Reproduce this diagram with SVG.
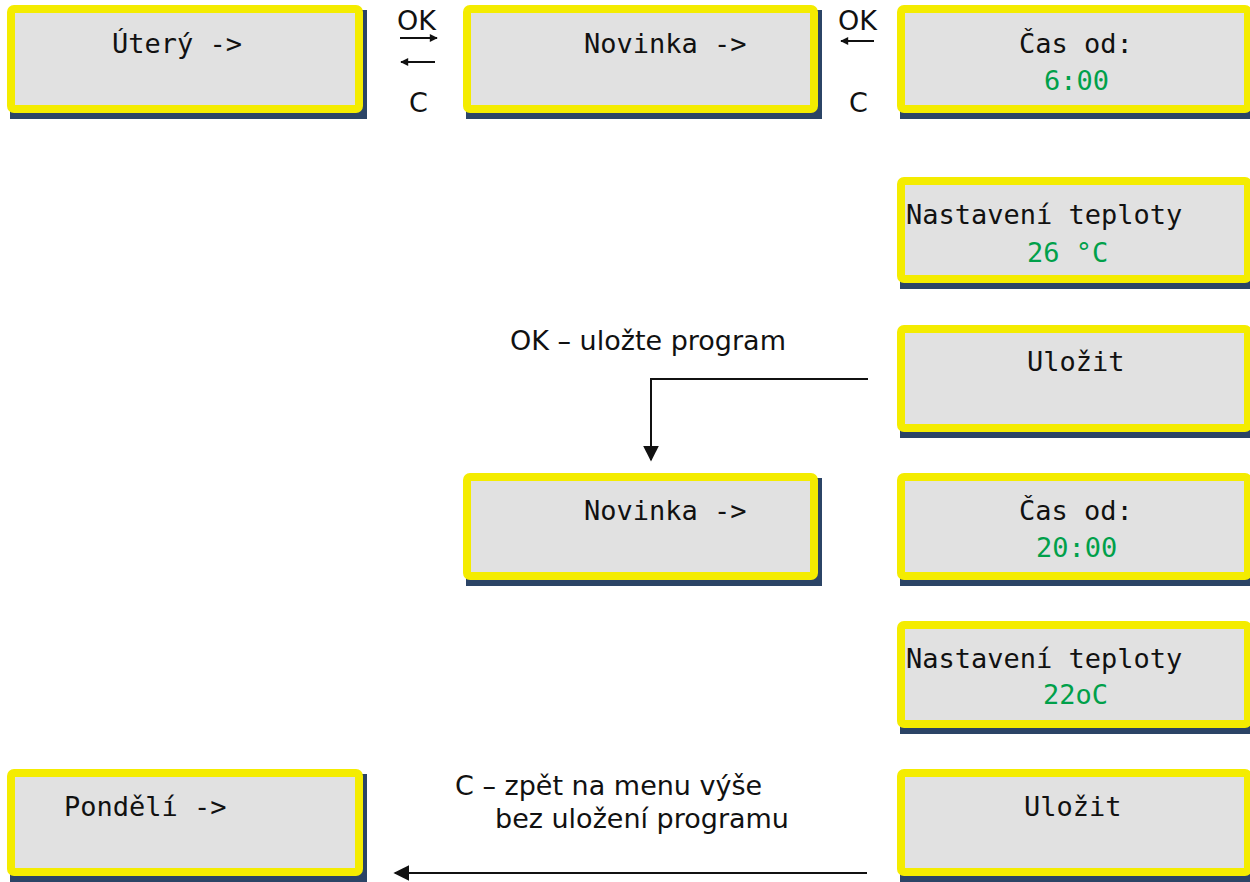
<svg xmlns="http://www.w3.org/2000/svg" width="1250" height="882" viewBox="0 0 1250 882">
  <style>
    .shadow { fill: #2b4466; }
    .panel { fill: #e1e1e1; stroke: #f4ec00; stroke-width: 8; }
    .lcd { font-family: "DejaVu Sans Mono", "Liberation Mono", monospace; font-size: 27px; fill: #111; }
    .val { fill: #00a04a; }
    .lbl { font-family: "DejaVu Sans", Verdana, sans-serif; font-size: 27px; fill: #111; }
    .wire { fill: none; stroke: #111; stroke-width: 2; }
  </style>
  <defs>
    <marker id="head" viewBox="0 0 10 10" refX="9" refY="5" markerWidth="9" markerHeight="8" markerUnits="userSpaceOnUse" orient="auto">
      <path d="M0,0 L10,5 L0,10 z" fill="#111"/>
    </marker>
    <marker id="headBig" viewBox="0 0 10 10" refX="9" refY="5" markerWidth="16" markerHeight="16" markerUnits="userSpaceOnUse" orient="auto">
      <path d="M0,0 L10,5 L0,10 z" fill="#111"/>
    </marker>
  </defs>
  <rect width="1250" height="882" fill="#fff"/>

  <!-- Menu panels -->
  <g id="uteri">
    <rect class="shadow" x="10" y="10" width="357" height="109"/>
    <rect class="panel" x="11" y="9" width="348" height="100" rx="3"/>
    <text class="lcd" x="112" y="53">Úterý -&gt;</text>
  </g>
  <g id="novinka1">
    <rect class="shadow" x="466" y="10" width="356" height="109"/>
    <rect class="panel" x="467" y="9" width="347" height="100" rx="3"/>
    <text class="lcd" x="584" y="53">Novinka -&gt;</text>
  </g>
  <g id="cas-od-1">
    <rect class="shadow" x="900" y="10" width="360" height="109"/>
    <rect class="panel" x="901" y="9" width="347" height="100" rx="3"/>
    <text class="lcd" x="1019" y="53">Čas od:</text>
    <text class="lcd val" x="1044" y="90">6:00</text>
  </g>
  <g id="teplota-1">
    <rect class="shadow" x="900" y="182" width="360" height="107"/>
    <rect class="panel" x="901" y="181" width="347" height="98" rx="3"/>
    <text class="lcd" x="906" y="224">Nastavení teploty</text>
    <text class="lcd val" x="1027" y="262">26 °C</text>
  </g>
  <g id="ulozit-1">
    <rect class="shadow" x="900" y="330" width="360" height="108"/>
    <rect class="panel" x="901" y="329" width="347" height="99" rx="3"/>
    <text class="lcd" x="1027" y="371">Uložit</text>
  </g>
  <g id="novinka2">
    <rect class="shadow" x="466" y="478" width="356" height="108"/>
    <rect class="panel" x="467" y="477" width="347" height="99" rx="3"/>
    <text class="lcd" x="584" y="520">Novinka -&gt;</text>
  </g>
  <g id="cas-od-2">
    <rect class="shadow" x="900" y="478" width="360" height="108"/>
    <rect class="panel" x="901" y="477" width="347" height="99" rx="3"/>
    <text class="lcd" x="1019" y="520">Čas od:</text>
    <text class="lcd val" x="1036" y="557">20:00</text>
  </g>
  <g id="teplota-2">
    <rect class="shadow" x="900" y="626" width="360" height="108"/>
    <rect class="panel" x="901" y="625" width="347" height="99" rx="3"/>
    <text class="lcd" x="906" y="668">Nastavení teploty</text>
    <text class="lcd val" x="1043" y="704">22oC</text>
  </g>
  <g id="ulozit-2">
    <rect class="shadow" x="900" y="774" width="360" height="108"/>
    <rect class="panel" x="901" y="773" width="347" height="99" rx="3"/>
    <text class="lcd" x="1024" y="816">Uložit</text>
  </g>
  <g id="pondeli">
    <rect class="shadow" x="10" y="774" width="357" height="108"/>
    <rect class="panel" x="11" y="773" width="348" height="99" rx="3"/>
    <text class="lcd" x="64" y="816">Pondělí -&gt;</text>
  </g>

  <!-- Connectors -->
  <g id="connectors">
    <line class="wire" x1="400" y1="38" x2="437" y2="38" marker-end="url(#head)"/>
    <line class="wire" x1="435" y1="62" x2="401" y2="62" marker-end="url(#head)"/>
    <line class="wire" x1="874" y1="41" x2="841" y2="41" marker-end="url(#head)"/>
    <polyline class="wire" points="868,379 651,379 651,460" marker-end="url(#headBig)"/>
    <line class="wire" x1="867" y1="873" x2="395" y2="873" marker-end="url(#headBig)"/>
  </g>

  <!-- Key labels -->
  <g id="labels">
    <text class="lbl" x="397" y="30">OK</text>
    <text class="lbl" x="409" y="112">C</text>
    <text class="lbl" x="838" y="30">OK</text>
    <text class="lbl" x="849" y="112">C</text>
    <text class="lbl" x="510" y="350">OK – uložte program</text>
    <text class="lbl" x="455" y="795">C – zpět na menu výše</text>
    <text class="lbl" x="495" y="828">bez uložení programu</text>
  </g>
</svg>
